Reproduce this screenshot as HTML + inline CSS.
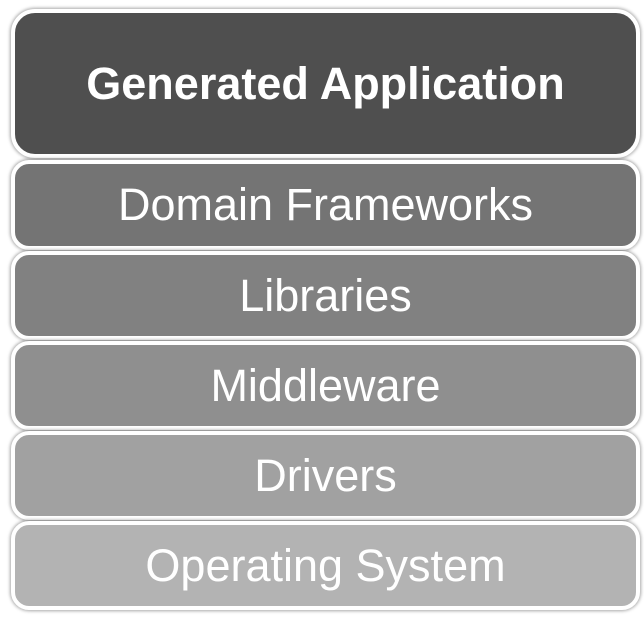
<!DOCTYPE html>
<html><head><style>
body{margin:0;width:644px;height:617px;background:#fff;position:relative;overflow:hidden;font-family:"Liberation Sans",sans-serif}
.b{position:absolute;left:11px;width:629px;border:4px solid #fff;border-radius:18px;box-shadow:0 0 3px 1px rgba(0,0,0,.35);color:#fff;display:flex;align-items:center;justify-content:center;font-size:45px;box-sizing:border-box}
</style></head><body>
<div class="b" style="top:9px;height:149px;background:#4f4f4f;font-weight:bold;font-size:45px;border-radius:24px">Generated Application</div>
<div class="b" style="top:160px;height:90px;background:#747474">Domain Frameworks</div>
<div class="b" style="top:251px;height:89px;background:#818181">Libraries</div>
<div class="b" style="top:341px;height:89px;background:#8f8f8f">Middleware</div>
<div class="b" style="top:431px;height:89px;background:#a1a1a1">Drivers</div>
<div class="b" style="top:521px;height:89px;background:#b3b3b3">Operating System</div>
</body></html>
